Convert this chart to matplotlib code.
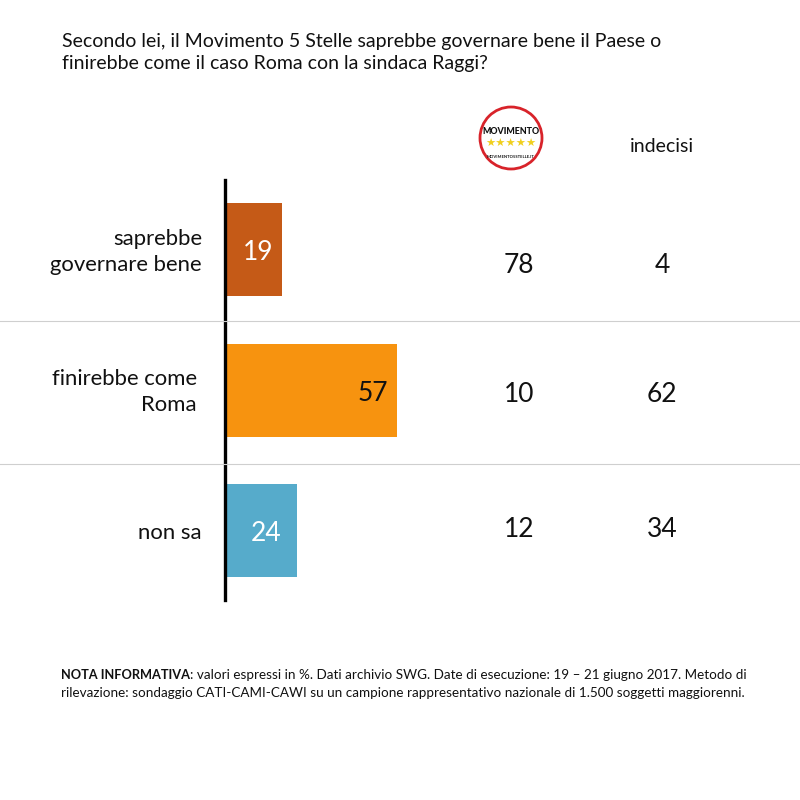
import matplotlib
matplotlib.use("Agg")
import matplotlib.pyplot as plt
from matplotlib.patches import Circle

plt.rcParams['font.family'] = ['Lato', 'DejaVu Sans']

categories = ["saprebbe\ngovernare bene", "finirebbe come\nRoma", "non sa"]
m5s_values = [19, 57, 24]
bar_colors = ["#C55A17", "#F7930F", "#56ABCB"]
label_colors = ["white", "#111111", "white"]
col_m5s = [78, 10, 12]
col_undecided = [4, 62, 34]
title = "Secondo lei, il Movimento 5 Stelle saprebbe governare bene il Paese o\nfinirebbe come il caso Roma con la sindaca Raggi?"

fig = plt.figure(figsize=(8, 8), dpi=100)
bg = fig.add_axes([0, 0, 1, 1], zorder=2); bg.set_xlim(0, 800); bg.set_ylim(800, 0); bg.axis("off")

# Bars in data units: 3.02 px per percent, starting from the axis
ax = fig.add_axes([225/800, 1-600/800, 302/800, 420/800], zorder=1)
ax.set_xlim(0, 100); ax.set_ylim(600, 180)
ax.axis("off")
ypos = [249.5, 390, 530]
ax.barh(ypos, m5s_values, height=93, color=bar_colors)
label_inset = [8.0, 8.0, 10.3]
for y, v, c, d in zip(ypos, m5s_values, label_colors, label_inset):
    ax.text(v-d, y+3.5, str(v), ha="center", va="center", fontsize=19, color=c)

bg.plot([224.5, 224.5], [180, 600], color="black", lw=2.4)
for y in [320.5, 464]:
    bg.plot([0, 800], [y, y], color="#CFCFCF", lw=0.8)

bg.text(62, 52.5, title, fontsize=14.0, va="center", ha="left", color="#111111", linespacing=1.32)
for y, t, x in zip([252, 392, 533], categories, [202, 197, 202]):
    bg.text(x, y, t, fontsize=15.9, ha="right", va="center", color="#111111", linespacing=1.33)
for y, a, b in zip([265.5, 394.5, 529.5], col_m5s, col_undecided):
    bg.text(519, y, str(a), fontsize=19, ha="center", va="center", color="#111111")
    bg.text(662, y, str(b), fontsize=19, ha="center", va="center", color="#111111")
bg.text(662, 147, "indecisi", fontsize=14, ha="center", va="center", color="#111111")

# logo
bg.add_patch(Circle((511, 138), 31, fc="white", ec="#D8232A", lw=2))
bg.text(511, 132, "MOVIMENTO", fontsize=6.4, fontweight="black", ha="center", va="center", color="#111111")
bg.text(511, 144, "★★★★★", fontsize=8.2, ha="center", va="center", color="#F0CF1E", family="DejaVu Sans")
bg.text(511, 157, "MOVIMENTO5STELLE.IT", fontsize=3, fontweight="bold", ha="center", va="center", color="#111111")

bg.text(61, 675, "NOTA INFORMATIVA", fontsize=9.2, fontweight="bold", va="center", color="#111111")
bg.text(190, 675, ": valori espressi in %. Dati archivio SWG. Date di esecuzione: 19 – 21 giugno 2017. Metodo di", fontsize=9.75, va="center", color="#111111")
bg.text(61, 693, "rilevazione: sondaggio CATI-CAMI-CAWI su un campione rappresentativo nazionale di 1.500 soggetti maggiorenni.", fontsize=9.75, va="center", color="#111111")

fig.savefig("out.png", dpi=100, facecolor="white")
